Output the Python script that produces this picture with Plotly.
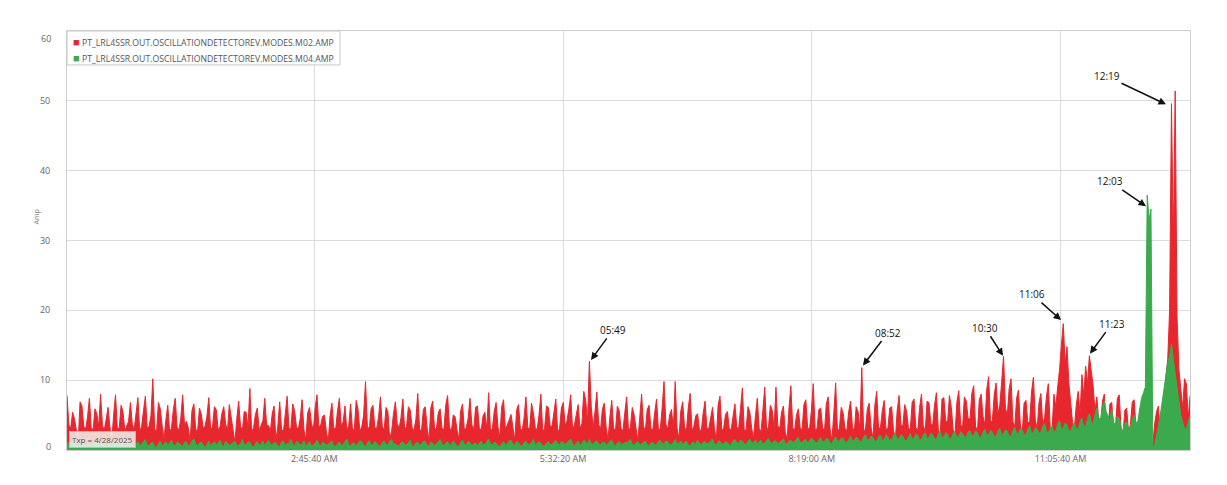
import pandas as pd
import plotly.graph_objects as go

# ---------------- data ----------------
start_time = "2025-04-28 00:00:00"
sample_step = "75s"

m02_amp = [
    7.8, 3.6, 3.1, 5.4, 4.5, 2.8, 1.2, 6.9, 6.3, 3.4, 3.0, 4.7, 7.4, 3.2, 2.9, 5.9, 5.2, 3.3, 8.0, 3.5,
    2.9, 4.4, 6.1, 3.3, 1.4, 5.0, 7.9, 3.0, 3.2, 6.4, 5.5, 2.8, 3.6, 4.1, 6.8, 3.7, 2.9, 5.3, 7.5, 2.7,
    3.4, 5.6, 7.7, 3.1, 3.4, 4.9, 10.2, 3.0, 2.6, 6.8, 5.9, 3.5, 1.5, 4.3, 6.4, 2.7, 3.1, 5.8, 7.4, 3.3,
    2.8, 4.6, 7.9, 3.5, 4.1, 3.2, 1.3, 5.7, 6.6, 3.0, 2.7, 6.0, 5.1, 3.1, 3.4, 4.8, 7.5, 2.9, 3.3, 6.2,
    5.8, 2.9, 3.3, 5.2, 6.2, 3.8, 2.7, 6.5, 4.9, 3.1, 1.1, 4.4, 7.0, 3.4, 2.8, 5.5, 5.4, 3.2, 8.8, 2.6,
    3.2, 5.1, 6.0, 2.8, 3.5, 4.2, 7.4, 3.6, 3.5, 2.7, 5.2, 6.3, 1.4, 3.4, 6.9, 3.0, 2.6, 5.7, 7.7, 3.0,
    3.1, 6.6, 5.6, 3.3, 3.0, 4.5, 7.2, 2.9, 1.5, 5.3, 6.1, 3.9, 2.8, 6.0, 7.9, 3.2, 3.6, 4.8, 5.0, 2.7,
    1.2, 4.9, 6.7, 3.1, 3.0, 5.6, 7.4, 3.4, 4.0, 6.3, 2.8, 3.5, 6.6, 3.0, 2.9, 7.1, 5.8, 2.7, 3.3, 5.0,
    9.8, 3.4, 3.0, 5.9, 6.4, 3.2, 3.1, 4.7, 7.6, 3.3, 2.9, 6.1, 5.5, 1.6, 2.7, 5.2, 6.9, 3.8, 3.1, 4.6,
    7.3, 2.9, 3.4, 6.2, 5.7, 3.2, 2.8, 4.4, 8.1, 3.0, 2.7, 5.8, 6.2, 3.3, 1.3, 6.0, 7.0, 3.1, 3.0, 5.3,
    5.9, 3.1, 2.9, 6.4, 7.8, 3.3, 2.6, 5.0, 4.8, 3.0, 1.5, 5.6, 6.6, 2.8, 3.2, 4.5, 7.4, 3.6, 2.9, 6.1,
    6.3, 3.2, 2.8, 4.9, 5.4, 3.0, 8.2, 2.7, 3.1, 5.5, 6.8, 3.3, 1.9, 6.2, 7.2, 2.9, 3.5, 4.3, 5.1, 3.0,
    1.4, 5.7, 6.5, 3.1, 2.8, 4.6, 7.6, 3.2, 3.0, 6.7, 5.3, 3.2, 2.9, 5.0, 8.0, 2.6, 3.1, 6.3, 6.1, 3.4,
    3.4, 5.4, 7.3, 2.7, 3.0, 6.0, 6.8, 3.5, 4.2, 5.9, 7.9, 2.9, 3.6, 5.1, 6.5, 3.1, 3.8, 8.4, 7.2, 4.0,
    12.7, 6.2, 3.1, 5.5, 8.3, 3.6, 3.0, 5.9, 6.7, 3.2, 1.5, 4.8, 7.1, 3.1, 2.8, 6.3, 5.6, 3.0, 2.8, 5.4,
    7.6, 2.6, 3.3, 6.1, 5.0, 3.1, 1.4, 4.7, 8.0, 3.4, 2.8, 5.8, 6.4, 3.0, 2.9, 5.3, 7.3, 2.9, 3.0, 6.0,
    9.8, 3.7, 3.0, 5.0, 5.8, 3.1, 9.8, 3.2, 1.6, 5.6, 6.9, 3.3, 2.7, 6.0, 8.1, 2.8, 3.4, 4.9, 5.2, 2.9,
    2.8, 5.3, 7.0, 3.0, 3.1, 4.6, 6.1, 3.2, 1.3, 6.4, 7.7, 2.7, 3.2, 5.1, 5.5, 3.0, 2.9, 4.8, 6.6, 3.3,
    3.0, 5.9, 8.9, 2.8, 2.9, 6.2, 5.4, 3.1, 1.7, 4.9, 7.4, 3.1, 2.6, 5.7, 9.0, 2.8, 3.3, 6.4, 5.7, 3.0,
    9.0, 3.5, 3.0, 5.4, 6.3, 2.6, 1.5, 6.0, 9.2, 3.2, 2.8, 5.0, 5.9, 3.2, 2.9, 6.5, 7.2, 3.1, 3.0, 5.6,
    9.5, 2.9, 3.0, 5.8, 6.0, 3.2, 2.7, 6.6, 7.6, 3.0, 1.4, 5.2, 9.6, 2.6, 3.1, 6.1, 5.3, 3.1, 2.8, 5.5,
    7.0, 3.3, 2.6, 6.2, 5.5, 3.0, 11.8, 2.7, 3.0, 5.9, 6.7, 3.2, 1.6, 6.4, 8.4, 3.1, 3.2, 5.6, 7.1, 2.9,
    3.1, 6.0, 6.2, 2.9, 1.5, 5.7, 7.8, 3.6, 3.4, 6.5, 5.6, 3.2, 2.9, 6.8, 7.3, 3.2, 2.8, 6.1, 8.0, 3.5,
    2.6, 7.0, 6.8, 3.8, 3.5, 6.4, 8.2, 3.0, 2.0, 7.3, 7.5, 4.2, 4.0, 7.8, 6.1, 2.9, 2.3, 6.9, 8.5, 3.7,
    3.1, 7.6, 7.0, 4.5, 4.4, 8.1, 9.2, 3.4, 2.7, 7.2, 8.0, 4.8, 3.6, 8.7, 10.5, 4.0, 4.2, 7.9, 9.6, 5.1,
    6.5, 9.8, 13.4, 6.0, 5.0, 8.8, 10.2, 4.1, 3.3, 7.4, 8.6, 3.6, 2.4, 6.7, 7.1, 3.9, 4.0, 8.3, 10.4, 4.4,
    3.0, 6.8, 8.1, 3.7, 4.6, 7.7, 9.5, 3.2, 2.8, 8.0, 6.2, 9.0, 11.5, 15.0, 18.1, 12.5, 14.8, 9.6, 7.0, 3.9,
    3.2, 6.5, 8.4, 5.2, 10.8, 7.8, 12.0, 9.5, 13.5, 11.2, 9.2, 5.6, 7.6, 4.3, 3.1, 7.0, 8.0, 3.6, 2.5, 6.6,
    6.8, 2.8, 3.3, 7.4, 7.9, 3.0, 2.1, 5.7, 6.0, 2.6, 3.6, 6.9, 7.2, 3.1, 2.4, 5.8, 6.4, 7.3, 8.5, 9.8,
    11.0, 2.0, 0.6, 3.8, 5.5, 6.3, 2.4, 5.9, 7.0, 10.5, 13.0, 20.0, 49.6, 30.0, 51.4, 19.0, 11.5, 8.8, 6.0, 10.2,
    9.5, 4.6, 7.8,
]

m04_amp = [
    1.2, 0.8, 0.5, 1.1, 1.4, 0.6, 0.7, 1.2, 1.0, 0.7, 0.4, 0.9, 1.3, 0.5, 0.8, 1.1, 1.5, 0.7, 0.6, 1.0,
    1.1, 0.6, 0.5, 1.0, 1.3, 0.7, 0.9, 1.4, 0.6, 0.8, 1.4, 0.5, 0.7, 1.1, 1.0, 0.6, 0.5, 0.9, 1.2, 0.7,
    0.8, 1.2, 1.5, 0.7, 0.6, 1.0, 1.1, 0.5, 0.4, 0.9, 1.3, 0.6, 0.9, 1.2, 0.7, 1.0, 1.4, 0.8, 0.6, 1.1,
    1.0, 0.7, 0.5, 1.1, 1.2, 0.6, 0.8, 1.3, 1.6, 0.9, 0.6, 1.0, 1.1, 0.7, 0.4, 0.8, 1.3, 0.6, 0.9, 1.2,
    0.7, 1.0, 1.4, 0.8, 0.5, 1.2, 1.0, 0.6, 0.8, 1.1, 1.3, 0.7, 0.6, 0.9, 1.5, 0.8, 0.7, 1.2, 1.1, 0.6,
    0.4, 0.9, 1.2, 0.6, 0.9, 1.3, 0.6, 1.0, 1.4, 0.8, 0.7, 1.1, 1.0, 0.6, 0.5, 1.2, 1.3, 0.7, 0.8, 1.0,
    1.5, 0.8, 0.6, 1.2, 1.1, 0.7, 0.9, 1.3, 0.5, 0.8, 1.2, 0.6, 0.7, 1.0, 1.4, 0.9, 0.6, 1.1, 1.0, 0.7,
    0.8, 1.1, 1.3, 0.6, 0.5, 0.9, 1.1, 0.7, 0.7, 1.2, 1.6, 0.8, 0.6, 1.0, 1.0, 0.6, 0.9, 1.3, 1.2, 0.7,
    0.5, 1.0, 1.4, 0.7, 0.8, 1.2, 1.0, 0.6, 0.6, 1.1, 1.3, 0.8, 0.7, 1.2, 1.5, 0.9, 0.9, 0.6, 0.6, 1.0,
    1.2, 0.8, 0.7, 1.1, 1.4, 0.6, 0.5, 1.0, 1.1, 0.7, 0.8, 1.2, 1.3, 0.7, 0.6, 1.1, 1.0, 0.6, 0.9, 1.3,
    1.5, 0.9, 0.6, 1.0, 1.2, 0.7, 0.8, 1.3, 1.0, 0.6, 0.5, 1.1, 1.4, 0.8, 0.7, 1.2, 1.1, 0.6, 0.9, 1.0,
    0.6, 1.0, 1.3, 0.7, 0.8, 1.2, 1.6, 0.9, 0.7, 1.1, 1.0, 0.6, 0.5, 0.9, 1.2, 0.7, 0.9, 1.3, 1.4, 0.8,
    0.7, 1.2, 1.1, 0.6, 0.6, 1.0, 1.3, 0.8, 0.8, 1.1, 1.5, 0.7, 0.9, 1.2, 1.0, 0.6, 0.6, 1.0, 1.2, 0.8,
    0.8, 1.1, 1.4, 0.9, 0.7, 1.2, 1.1, 0.8, 1.0, 1.3, 1.6, 0.9, 0.6, 1.0, 1.3, 0.7, 0.9, 1.4, 1.2, 0.8,
    1.5, 1.0, 0.8, 1.2, 1.3, 0.9, 0.7, 1.1, 1.1, 0.7, 0.9, 1.3, 1.4, 0.8, 0.6, 1.0, 1.2, 0.9, 0.8, 1.1,
    1.0, 1.3, 1.5, 0.8, 0.7, 1.0, 1.2, 0.7, 0.9, 1.2, 1.3, 0.8, 0.6, 1.0, 1.1, 0.7, 0.8, 1.2, 1.4, 0.9,
    0.9, 1.3, 1.2, 0.8, 0.7, 1.1, 1.5, 0.9, 1.0, 1.3, 0.8, 1.0, 1.3, 0.7, 0.6, 1.0, 1.1, 0.8, 1.4, 1.0,
    0.8, 1.1, 1.2, 0.9, 1.0, 1.3, 1.6, 0.9, 0.7, 1.2, 1.3, 0.8, 0.9, 1.2, 1.1, 0.7, 0.8, 1.3, 1.5, 1.0,
    1.0, 1.4, 1.3, 0.9, 0.8, 1.2, 1.6, 1.0, 1.1, 1.4, 0.9, 1.2, 1.4, 0.8, 1.0, 1.3, 1.7, 1.1, 0.9, 1.3,
    1.3, 0.9, 1.1, 1.4, 1.6, 1.0, 0.9, 1.3, 1.4, 1.1, 1.2, 1.6, 1.8, 1.1, 1.0, 1.4, 1.5, 1.0, 1.3, 1.7,
    1.5, 1.1, 1.0, 1.4, 1.8, 1.2, 1.2, 1.6, 1.6, 1.0, 0.9, 1.5, 1.9, 1.2, 1.3, 1.7, 1.7, 1.1, 1.1, 1.5,
    2.0, 1.3, 1.4, 1.8, 1.7, 1.2, 1.2, 1.9, 2.2, 1.4, 1.5, 2.0, 1.8, 1.2, 1.3, 1.9, 2.1, 1.4, 1.6, 2.2,
    1.9, 1.5, 1.4, 2.1, 2.3, 1.6, 1.6, 2.2, 2.0, 1.4, 1.3, 1.9, 2.4, 1.6, 1.7, 2.3, 2.1, 1.5, 1.5, 2.2,
    2.5, 1.7, 1.8, 2.4, 2.2, 1.6, 1.6, 2.3, 2.7, 1.8, 1.9, 2.5, 2.3, 1.6, 1.7, 2.4, 2.6, 1.8, 2.0, 2.6,
    2.4, 1.9, 1.8, 2.6, 2.8, 2.0, 2.1, 2.7, 2.5, 1.8, 1.9, 2.6, 3.0, 2.1, 2.2, 2.8, 2.6, 1.9, 2.0, 2.7,
    3.1, 2.2, 2.3, 2.9, 2.7, 2.0, 2.0, 2.8, 3.3, 2.3, 2.4, 3.0, 2.9, 2.2, 2.1, 3.0, 3.5, 2.4, 2.5, 3.2,
    3.0, 2.4, 2.6, 3.4, 3.8, 2.7, 2.4, 3.1, 3.4, 2.6, 2.8, 3.7, 4.2, 3.0, 3.1, 3.9, 3.6, 2.8, 2.7, 3.5,
    3.9, 3.1, 3.0, 4.1, 4.6, 3.4, 3.3, 4.5, 5.2, 4.0, 3.8, 5.1, 6.0, 4.6, 4.4, 6.3, 7.0, 5.5, 5.0, 4.3,
    5.8, 4.0, 3.4, 4.8, 4.6, 3.1, 2.8, 3.9, 4.0, 2.9, 3.2, 4.4, 5.0, 3.8, 4.2, 6.0, 7.5, 8.2, 9.0, 36.5,
    33.0, 34.5, 0.4, 0.8, 2.0, 3.5, 5.0, 7.0, 9.0, 11.0, 12.5, 13.5, 15.2, 13.0, 11.0, 8.5, 6.5, 5.0, 4.0, 3.2,
    3.0, 4.2, 5.0,
]

series_names = [
    "PT_LRL4SSR.OUT.OSCILLATIONDETECTOREV.MODES.M02.AMP",
    "PT_LRL4SSR.OUT.OSCILLATIONDETECTOREV.MODES.M04.AMP",
]

x_range = ["2025-04-28 00:00:00", "2025-04-28 12:32:25"]
tick_times = ["2025-04-28 02:45:40", "2025-04-28 05:32:20",
              "2025-04-28 08:19:00", "2025-04-28 11:05:40"]
tick_labels = ["2:45:40 AM", "5:32:20 AM", "8:19:00 AM", "11:05:40 AM"]
y_range = [0, 60]
y_ticks_inner = [10, 20, 30, 40, 50]
y_ticks_edge = ["0", "60"]

event_labels = ["05:49", "08:52", "10:30", "11:06", "11:23", "12:03", "12:19"]
event_times = ["2025-04-28 05:51:05", "2025-04-28 08:53:19", "2025-04-28 10:27:07",
               "2025-04-28 11:05:59", "2025-04-28 11:25:25", "2025-04-28 12:02:56",
               "2025-04-28 12:16:20"]
event_values = [12.9, 12.1, 13.5, 18.6, 13.8, 34.9, 49.5]
event_offsets = [(22, -30), (25, -33), (-18, -28), (-29, -26), (22, -30), (-36, -25), (-59, -28)]

date_note = "Txp = 4/28/2025"
y_title = "Amp"

# ---------------- figure ----------------
RED = "rgb(232,38,45)"
GREEN = "rgb(58,170,76)"
colors = [RED, GREEN]

t_m02 = pd.date_range(start_time, periods=len(m02_amp), freq=sample_step)
t_m04 = pd.date_range(start_time, periods=len(m04_amp), freq=sample_step)

fig = go.Figure()
fig.add_trace(go.Scatter(x=t_m02, y=m02_amp, mode="lines", name=series_names[0],
                         line=dict(color=RED, width=1), fill="tozeroy", fillcolor=RED,
                         showlegend=False))
fig.add_trace(go.Scatter(x=t_m04, y=m04_amp, mode="lines", name=series_names[1],
                         line=dict(color=GREEN, width=1), fill="tozeroy", fillcolor=GREEN,
                         showlegend=False))

# event arrows
for lab, t, v, (ax, ay) in zip(event_labels, event_times, event_values, event_offsets):
    fig.add_annotation(x=t, y=v, text=lab, showarrow=True, arrowhead=2, arrowsize=1,
                       arrowwidth=1.5, arrowcolor="#111", ax=ax, ay=ay,
                       font=dict(family="Open Sans", size=10, color="#111"))

# legend box (drawn manually to match the compact square-marker style)
fig.add_shape(type="rect", xref="paper", yref="paper", x0=0, x1=0.2431, y0=0.919, y1=1,
              fillcolor="white", line=dict(color="#c8c8c8", width=1), layer="above")
for k, (name, col) in enumerate(zip(series_names, colors)):
    fig.add_annotation(xref="paper", yref="paper", x=0.004, y=[0.9739, 0.9359][k],
                       xanchor="left", yanchor="middle", showarrow=False, align="left",
                       text=f"<span style='color:{col};font-size:11px'>■</span> {name}",
                       font=dict(family="Open Sans", size=8.7, color="#555"))

# date note box
fig.add_annotation(x=0, y=0, xref="paper", yref="paper", xanchor="left", yanchor="bottom",
                   text=date_note, showarrow=False,
                   font=dict(family="Open Sans", size=8, color="#555"),
                   bgcolor="rgba(240,245,240,0.85)", bordercolor="#bbb", borderwidth=1,
                   borderpad=2, xshift=2, yshift=2)

# edge tick labels (shifted inwards like the original)
fig.add_annotation(xref="paper", yref="paper", x=0, y=0.0095, xanchor="right", yanchor="middle",
                   xshift=-14, text=y_ticks_edge[0], showarrow=False,
                   font=dict(family="Open Sans", size=9, color="#666"))
fig.add_annotation(xref="paper", yref="paper", x=0, y=0.983, xanchor="right", yanchor="middle",
                   xshift=-14, text=y_ticks_edge[1], showarrow=False,
                   font=dict(family="Open Sans", size=9, color="#666"))

# y-axis title
fig.add_annotation(xref="paper", yref="paper", x=-0.033, y=0.556, textangle=-90,
                   text=y_title, showarrow=False,
                   font=dict(family="Open Sans", size=7, color="#888"))

fig.update_layout(
    width=1211, height=469,
    margin=dict(l=59, r=29, t=23, b=24),
    plot_bgcolor="white", paper_bgcolor="white",
    font=dict(family="Open Sans", size=9, color="#666"),
    showlegend=False,
    xaxis=dict(type="date", range=x_range, tickvals=tick_times, ticktext=tick_labels,
               showgrid=True, gridcolor="#dcdcdc", gridwidth=1,
               showline=True, linecolor="#cfcfcf", mirror=True, ticks="",
               zeroline=False, tickfont=dict(size=9, color="#666")),
    yaxis=dict(range=y_range, tickvals=y_ticks_inner, showgrid=True, gridcolor="#dcdcdc",
               gridwidth=1, showline=True, linecolor="#cfcfcf", mirror=True, ticks="",
               ticklabelstandoff=14, zeroline=False, tickfont=dict(size=9, color="#666")),
)

fig.write_html("out.html")
